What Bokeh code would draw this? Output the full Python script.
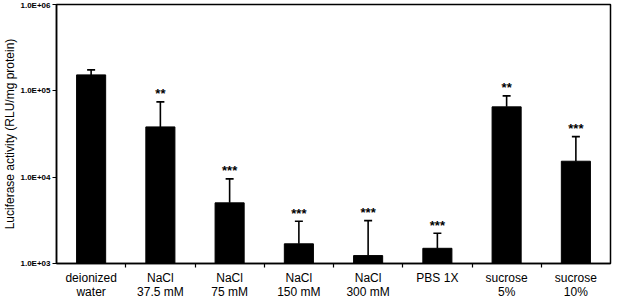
from bokeh.plotting import figure
from bokeh.models import ColumnDataSource, FixedTicker, Whisker, TeeHead, Range1d
from bokeh.core.properties import value
from bokeh.embed import file_html
from bokeh.resources import INLINE

categories = ["deionized\nwater", "NaCl\n37.5 mM", "NaCl\n75 mM", "NaCl\n150 mM",
              "NaCl\n300 mM", "PBS 1X", "sucrose\n5%", "sucrose\n10%"]
means = [153000, 38200, 5040, 1690, 1235, 1500, 65200, 15300]
err_top = [175000, 74500, 9550, 3080, 3140, 2240, 87500, 29500]
stars = ["", "**", "***", "***", "***", "***", "**", "***"]
y_ticks = [1e3, 1e4, 1e5, 1e6]
y_tick_labels = ["1.0E+03", "1.0E+04", "1.0E+05", "1.0E+06"]

n = len(categories)
x = [i + 0.5 for i in range(n)]

src = ColumnDataSource(dict(x=x, mean=means, top=err_top, stars=stars,
                            bottom=[y_ticks[0]] * n))

p = figure(frame_width=554, frame_height=259, y_axis_type="log", output_backend="svg",
           toolbar_location=None, x_range=Range1d(0, n),
           y_range=Range1d(y_ticks[0], y_ticks[-1]),
           min_border_left=55, min_border_right=2, min_border_top=4,
           min_border_bottom=0)

p.vbar(x="x", top="mean", bottom="bottom", width=0.42, source=src,
       fill_color="black", line_color="black")

w = Whisker(base="x", lower="mean", upper="top", source=src,
            line_color="black", line_width=1.6, lower_head=None,
            upper_head=TeeHead(size=8, line_color="black", line_width=1.6))
p.add_layout(w)

p.text(x="x", y="top", text="stars", source=src, text_align="center",
       text_baseline="middle", y_offset=-8, text_font=value("Liberation Sans"),
       text_font_size="13px", text_font_style="bold", text_color="black")

p.xgrid.visible = False
p.ygrid.visible = False
p.outline_line_color = "black"
p.outline_line_width = 1.5

xa = p.xaxis[0]
xa.ticker = FixedTicker(ticks=x, minor_ticks=list(range(1, n)))
xa.major_label_overrides = {v: c for v, c in zip(x, categories)}
xa.major_tick_out = 0
xa.major_tick_in = 0
xa.minor_tick_out = 4
xa.minor_tick_in = 0
xa.minor_tick_line_color = "black"
xa.minor_tick_line_width = 1.2
xa.axis_line_width = 1.5
xa.axis_line_color = "black"
xa.major_label_text_font = "Liberation Sans"
xa.major_label_text_font_size = "12px"
xa.major_label_text_color = "black"
xa.major_label_text_line_height = 1.05
xa.major_label_standoff = 3
xa.axis_label = None

ya = p.yaxis[0]
ya.ticker = FixedTicker(ticks=y_ticks, minor_ticks=[])
ya.major_label_overrides = {t: l for t, l in zip(y_ticks, y_tick_labels)}
ya.major_tick_out = 4
ya.major_tick_in = 0
ya.major_tick_line_width = 1.2
ya.axis_line_width = 1.5
ya.axis_line_color = "black"
ya.major_label_text_font = "Liberation Sans"
ya.major_label_text_font_size = "8px"
ya.major_label_text_font_style = "bold"
ya.major_label_text_color = "black"
ya.major_label_standoff = 2
ya.axis_label = "Luciferase activity (RLU/mg protein)"
ya.axis_label_text_font = "Liberation Sans"
ya.axis_label_text_font_size = "12px"
ya.axis_label_text_font_style = "normal"
ya.axis_label_text_color = "black"
ya.axis_label_standoff = 0

open("out.html", "w").write(file_html(p, INLINE))
